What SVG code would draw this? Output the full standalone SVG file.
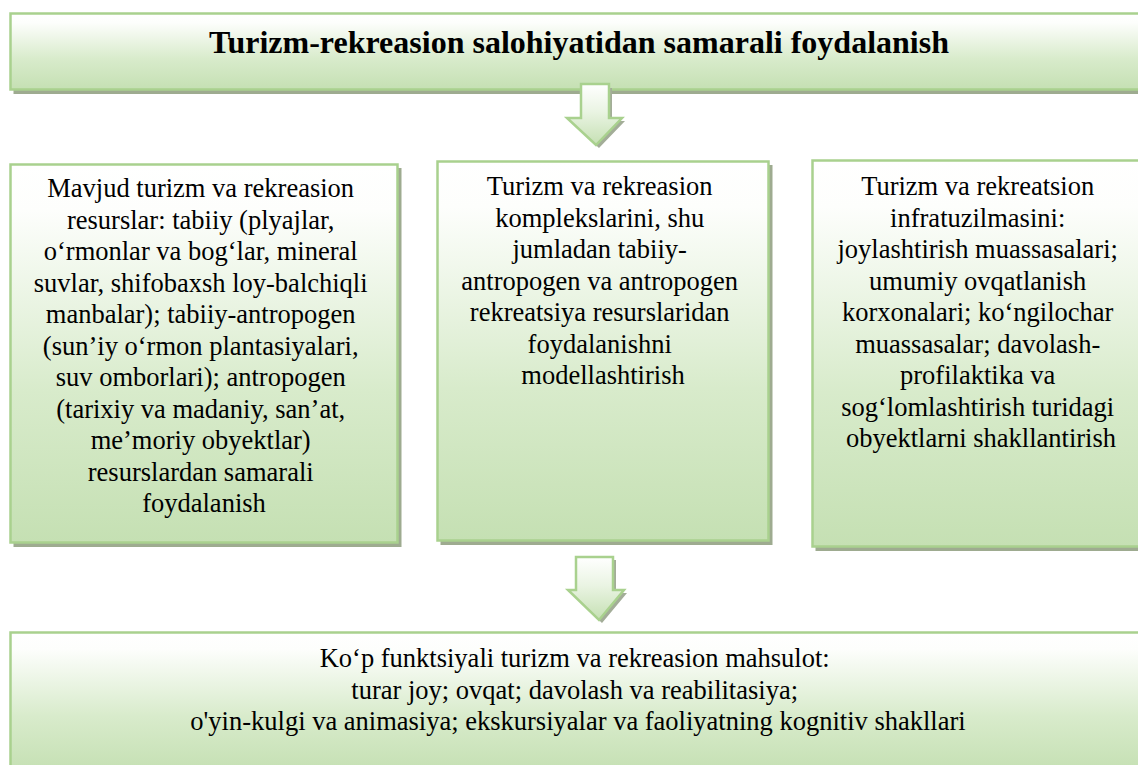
<svg xmlns="http://www.w3.org/2000/svg" width="1138" height="765" viewBox="0 0 1138 765">
  <defs>
    <linearGradient id="boxFill" x1="0" y1="0" x2="0" y2="1">
      <stop offset="0" stop-color="#ffffff"/>
      <stop offset="0.12" stop-color="#fdfefc"/>
      <stop offset="0.6" stop-color="#d8ebcb"/>
      <stop offset="1" stop-color="#c5e0b3"/>
    </linearGradient>
    <linearGradient id="arrowFill" x1="0" y1="0" x2="0" y2="1">
      <stop offset="0" stop-color="#ffffff"/>
      <stop offset="0.45" stop-color="#eaf4e3"/>
      <stop offset="1" stop-color="#c5e0b3"/>
    </linearGradient>
  </defs>
  <style>
    .box { fill: url(#boxFill); stroke: #a9d18e; stroke-width: 2.5; }
    .shadow { fill: #9eab90; }
    .arrow { fill: url(#arrowFill); stroke: #a9d18e; stroke-width: 2.5; }
    .ashadow { fill: #a3ad98; }
  </style>

  <rect width="1138" height="765" fill="#ffffff"/>

  <!-- header -->
  <g id="goal">
    <rect class="shadow" x="13.5" y="17" width="1140" height="77"/>
    <rect class="box" x="10.5" y="13.5" width="1140" height="76"/>
    <text font-family="Liberation Serif" font-size="32" font-weight="bold" text-anchor="middle" fill="#000" style="font-family:'Liberation Serif',serif !important" x="579" y="53">Turizm-rekreasion salohiyatidan samarali foydalanish</text>
  </g>

  <!-- block arrows between levels -->
  <g id="connectors">
    <path class="ashadow" d="M584,88 H612 V121 H625 L599,148 L570,121 H584 Z"/>
    <path class="arrow" d="M581,84 H609 V118 H622 L596,145 L567,118 H581 Z"/>
    <path class="ashadow" d="M579,560 H616 V593 H627 L602,623 L571,593 H579 Z"/>
    <path class="arrow" d="M576,557 H613 V590 H624 L599,620 L568,590 H576 Z"/>
  </g>

  <g id="resources">
    <rect class="shadow" x="13.5" y="168" width="388" height="379"/>
    <rect class="box" x="10.5" y="164.5" width="387" height="378"/>
    <text font-family="Liberation Serif" font-size="26.5" text-anchor="middle" fill="#000" style="font-family:'Liberation Serif',serif !important">
      <tspan x="204" y="197">Mavjud turizm va rekreasion</tspan>
      <tspan x="204" y="228.5">resurslar: tabiiy (plyajlar,</tspan>
      <tspan x="204" y="260">o‘rmonlar va bog‘lar, mineral</tspan>
      <tspan x="204" y="291.5">suvlar, shifobaxsh loy-balchiqli</tspan>
      <tspan x="204" y="323">manbalar); tabiiy-antropogen</tspan>
      <tspan x="204" y="354.5">(sun’iy o‘rmon plantasiyalari,</tspan>
      <tspan x="204" y="386">suv omborlari); antropogen</tspan>
      <tspan x="204" y="417.5">(tarixiy va madaniy, san’at,</tspan>
      <tspan x="204" y="449">me’moriy obyektlar)</tspan>
      <tspan x="204" y="480.5">resurslardan samarali</tspan>
      <tspan x="204" y="512">foydalanish</tspan>
    </text>
  </g>

  <g id="complexes">
    <rect class="shadow" x="440.5" y="165" width="332" height="380"/>
    <rect class="box" x="437.5" y="161.5" width="331" height="379"/>
    <text font-family="Liberation Serif" font-size="26.5" text-anchor="middle" fill="#000" style="font-family:'Liberation Serif',serif !important">
      <tspan x="603" y="195">Turizm va rekreasion</tspan>
      <tspan x="603" y="226.5">komplekslarini, shu</tspan>
      <tspan x="603" y="258">jumladan tabiiy-</tspan>
      <tspan x="603" y="289.5">antropogen va antropogen</tspan>
      <tspan x="603" y="321">rekreatsiya resurslaridan</tspan>
      <tspan x="603" y="352.5">foydalanishni</tspan>
      <tspan x="603" y="384">modellashtirish</tspan>
    </text>
  </g>

  <g id="infrastructure">
    <rect class="shadow" x="815.5" y="164" width="340" height="387"/>
    <rect class="box" x="812.5" y="160.5" width="340" height="386"/>
    <text font-family="Liberation Serif" font-size="26.5" text-anchor="middle" fill="#000" style="font-family:'Liberation Serif',serif !important">
      <tspan x="981" y="195">Turizm va rekreatsion</tspan>
      <tspan x="981" y="226.5">infratuzilmasini:</tspan>
      <tspan x="981" y="258">joylashtirish muassasalari;</tspan>
      <tspan x="981" y="289.5">umumiy ovqatlanish</tspan>
      <tspan x="981" y="321">korxonalari; ko‘ngilochar</tspan>
      <tspan x="981" y="352.5">muassasalar; davolash-</tspan>
      <tspan x="981" y="384">profilaktika va</tspan>
      <tspan x="981" y="415.5">sog‘lomlashtirish turidagi</tspan>
      <tspan x="981" y="447">obyektlarni shakllantirish</tspan>
    </text>
  </g>

  <g id="product">
    <rect class="shadow" x="13.5" y="636" width="1140" height="140"/>
    <rect class="box" x="10.5" y="632.5" width="1140" height="140"/>
    <text font-family="Liberation Serif" font-size="26.5" text-anchor="middle" fill="#000" style="font-family:'Liberation Serif',serif !important">
      <tspan x="578" y="667">Ko‘p funktsiyali turizm va rekreasion mahsulot:</tspan>
      <tspan x="578" y="698.5">turar joy; ovqat; davolash va reabilitasiya;</tspan>
      <tspan x="578" y="730">o'yin-kulgi va animasiya; ekskursiyalar va faoliyatning kognitiv shakllari</tspan>
    </text>
  </g>
</svg>
